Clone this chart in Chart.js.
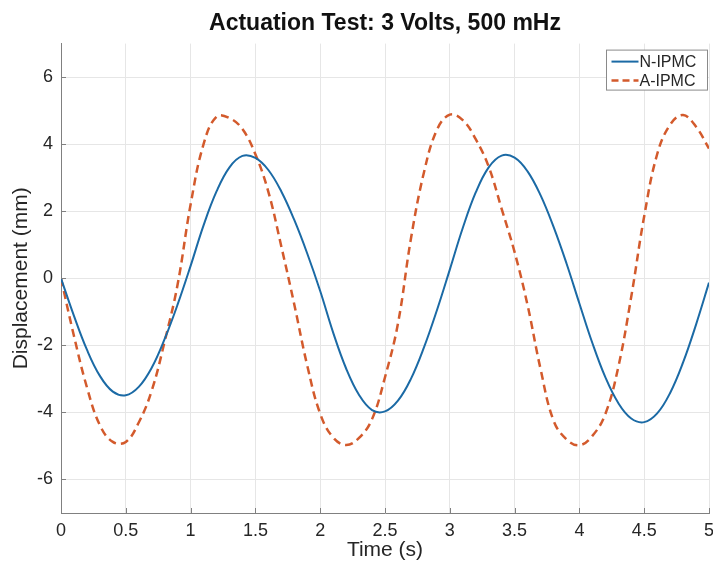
<!DOCTYPE html>
<html>
<head>
<meta charset="utf-8">
<title>Actuation Test</title>
<script src="https://cdn.jsdelivr.net/npm/chart.js@4.4.1/dist/chart.umd.min.js"></script>
<style>
  html, body { margin: 0; padding: 0; background: #fff; }
  canvas { display: block; }
</style>
</head>
<body>
<canvas id="actChart" width="713" height="564"></canvas>
<script>
// Time samples (s)
const timeS = [
  0, 0.1, 0.2, 0.3, 0.4, 0.5, 0.6, 0.7, 0.8, 0.9,
  1.0, 1.1, 1.2, 1.3, 1.4, 1.5, 1.6, 1.7, 1.8, 1.9,
  2.0, 2.1, 2.2, 2.3, 2.4, 2.5, 2.6, 2.7, 2.8, 2.9,
  3.0, 3.1, 3.2, 3.3, 3.4, 3.5, 3.6, 3.7, 3.8, 3.9,
  4.0, 4.1, 4.2, 4.3, 4.4, 4.5, 4.6, 4.7, 4.8, 4.9,
  5.0
];

// Displacement (mm)
const nIpmc = [
  0, -1.12, -2.13, -2.91, -3.38, -3.49, -3.24, -2.67, -1.81, -0.78,
  0.37, 1.58, 2.59, 3.31, 3.65, 3.59, 3.23, 2.59, 1.74, 0.74,
  -0.38, -1.62, -2.69, -3.48, -3.93, -3.97, -3.65, -3.00, -2.07, -0.96,
  0.26, 1.50, 2.56, 3.31, 3.66, 3.60, 3.19, 2.48, 1.54, 0.45,
  -0.75, -1.93, -2.95, -3.72, -4.18, -4.29, -4.03, -3.42, -2.51, -1.38,
  -0.13
];

const aIpmc = [
  0, -1.72, -3.25, -4.38, -4.88, -4.88, -4.30, -3.35, -1.88, -0.18,
  2.20, 4.00, 4.82, 4.78, 4.45, 3.70, 2.58, 0.95, -0.78, -2.60,
  -4.04, -4.75, -4.97, -4.76, -4.20, -2.95, -1.35, 1.18, 3.15, 4.42,
  4.88, 4.72, 4.15, 3.33, 2.07, 0.78, -0.80, -2.70, -4.24, -4.80,
  -4.98, -4.70, -4.05, -2.65, -0.55, 1.85, 3.70, 4.58, 4.87, 4.52,
  3.87
];

const xTicks = [0, 0.5, 1, 1.5, 2, 2.5, 3, 3.5, 4, 4.5, 5];
const yTicks = [-6, -4, -2, 0, 2, 4, 6];

const FONT = "'Liberation Sans', Arial, Helvetica, sans-serif";
const TEXT = '#262626';
const AXIS = '#808080';

function toPoints(ys) {
  return timeS.map((t, i) => ({ x: t, y: ys[i] }));
}

// small inward tick marks like the original plotting tool
const innerTicks = {
  id: 'innerTicks',
  afterDatasetsDraw(chart) {
    const { ctx, chartArea, scales } = chart;
    ctx.save();
    ctx.strokeStyle = AXIS;
    ctx.lineWidth = 1;
    ctx.beginPath();
    xTicks.forEach(v => {
      const px = Math.round(scales.x.getPixelForValue(v)) + 0.5;
      ctx.moveTo(px, chartArea.bottom);
      ctx.lineTo(px, chartArea.bottom - 5);
    });
    yTicks.forEach(v => {
      const py = Math.round(scales.y.getPixelForValue(v)) + 0.5;
      ctx.moveTo(chartArea.left, py);
      ctx.lineTo(chartArea.left + 5, py);
    });
    ctx.stroke();
    ctx.restore();
  }
};

// boxed legend in the top-right corner of the plot
const boxLegend = {
  id: 'boxLegend',
  afterDraw(chart) {
    const { ctx, chartArea } = chart;
    const w = 101, h = 40;
    const x0 = chartArea.right - w - 1.5;
    const y0 = chartArea.top + 6.5;
    ctx.save();
    ctx.fillStyle = '#fff';
    ctx.fillRect(x0, y0, w, h);
    ctx.strokeStyle = '#8a8a8a';
    ctx.lineWidth = 1;
    ctx.strokeRect(x0, y0, w, h);
    ctx.font = '16px ' + FONT;
    ctx.textBaseline = 'middle';
    ctx.fillStyle = TEXT;
    chart.data.datasets.forEach((ds, i) => {
      const cy = y0 + 11.5 + i * 19;
      ctx.beginPath();
      ctx.strokeStyle = ds.borderColor;
      ctx.lineWidth = ds.borderWidth;
      ctx.setLineDash(ds.borderDash ? [7, 4] : []);
      ctx.moveTo(x0 + 5, cy);
      ctx.lineTo(x0 + 32, cy);
      ctx.stroke();
      ctx.setLineDash([]);
      ctx.fillText(ds.label, x0 + 33, cy + 1);
    });
    ctx.restore();
  }
};

const ctx = document.getElementById('actChart').getContext('2d');

new Chart(ctx, {
  type: 'line',
  data: {
    datasets: [
      {
        label: 'N-IPMC',
        data: toPoints(nIpmc),
        borderColor: '#1b6aa5',
        borderWidth: 2,
        pointRadius: 0,
        tension: 0.4,
        fill: false
      },
      {
        label: 'A-IPMC',
        data: toPoints(aIpmc),
        borderColor: '#d35a2c',
        borderWidth: 2.5,
        borderDash: [8, 5],
        pointRadius: 0,
        tension: 0.4,
        fill: false
      }
    ]
  },
  options: {
    responsive: false,
    animation: false,
    devicePixelRatio: 1,
    layout: { padding: { left: 0, right: 4, top: 0, bottom: 0 } },
    plugins: {
      legend: { display: false },
      tooltip: { enabled: false },
      title: {
        display: true,
        fullSize: false,
        text: 'Actuation Test: 3 Volts, 500 mHz',
        color: '#111',
        font: { family: FONT, size: 23, weight: 'bold' },
        padding: { top: 10, bottom: 6 }
      }
    },
    scales: {
      x: {
        type: 'linear',
        min: 0,
        max: 5,
        afterBuildTicks: axis => { axis.ticks = xTicks.map(v => ({ value: v })); },
        afterFit: axis => {
          axis.height = 51;
          axis.paddingLeft = 0;
          axis.paddingRight = 0;
        },
        grid: { color: '#e6e6e6', drawTicks: false },
        border: { display: true, color: AXIS, width: 1 },
        ticks: {
          color: TEXT,
          padding: 7,
          maxRotation: 0,
          autoSkip: false,
          font: { family: FONT, size: 18 },
          callback: value => String(value)
        },
        title: {
          display: true,
          text: 'Time (s)',
          color: TEXT,
          font: { family: FONT, size: 21 },
          padding: { top: 0, bottom: 1 }
        }
      },
      y: {
        type: 'linear',
        min: -7,
        max: 7,
        afterBuildTicks: axis => { axis.ticks = yTicks.map(v => ({ value: v })); },
        afterFit: axis => {
          axis.width = 61;
          axis.paddingTop = 0;
          axis.paddingBottom = 0;
        },
        grid: { color: '#e6e6e6', drawTicks: false },
        border: { display: true, color: AXIS, width: 1 },
        ticks: {
          color: TEXT,
          padding: 8,
          autoSkip: false,
          font: { family: FONT, size: 18 }
        },
        title: {
          display: true,
          text: 'Displacement (mm)',
          color: TEXT,
          font: { family: FONT, size: 21 },
          padding: { top: 9, bottom: 0 }
        }
      }
    }
  },
  plugins: [innerTicks, boxLegend]
});
</script>
</body>
</html>
